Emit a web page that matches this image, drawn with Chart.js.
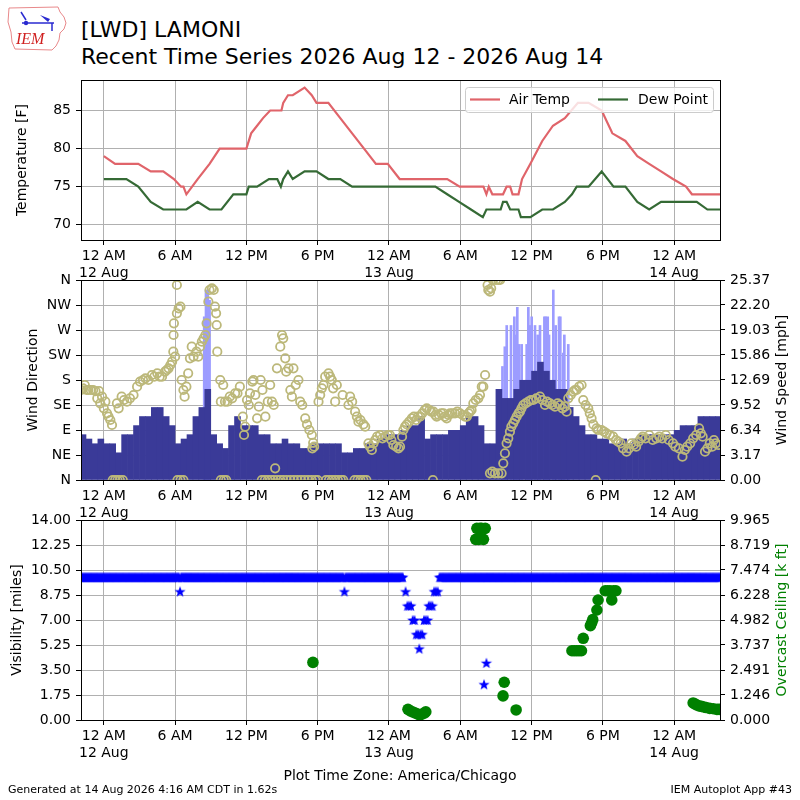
<!DOCTYPE html>
<html>
<head>
<meta charset="utf-8">
<script src="https://cdn.jsdelivr.net/npm/chart.js@4.4.0/dist/chart.umd.min.js"></script>
<style>
  body { margin: 0; background: #fff; }
  #wrap { position: relative; width: 800px; height: 800px; overflow: hidden; font-family: 'DejaVu Sans', sans-serif; color: #000; }
  #wrap canvas.plot { position: absolute; left: 0; top: 0; }
  .txt { position: absolute; white-space: nowrap; }
</style>
</head>
<body>
<div id="wrap">
  <canvas id="logo" width="70" height="56" style="position:absolute;left:2px;top:2px"></canvas>
  <div class="txt" style="left:81px;top:19px;font-size:22px;line-height:22px">[LWD] LAMONI</div>
  <div class="txt" style="left:81px;top:46px;font-size:22px;line-height:22px">Recent Time Series 2026 Aug 12 - 2026 Aug 14</div>
  <canvas class="plot" id="tempChart" width="800" height="800"></canvas>
  <canvas class="plot" id="windChart" width="800" height="800"></canvas>
  <canvas class="plot" id="visChart" width="800" height="800"></canvas>
  <div class="txt" style="left:0;width:800px;text-align:center;top:768px;font-size:14px;line-height:14px">Plot Time Zone: America/Chicago</div>
  <div class="txt" style="left:8px;top:784px;font-size:11px;line-height:11px">Generated at 14 Aug 2026 4:16 AM CDT in 1.62s</div>
  <div class="txt" style="right:8px;top:784px;font-size:11px;line-height:11px">IEM Autoplot App #43</div>
</div>
<script>
// all times are hours after midnight 12 Aug (America/Chicago)
const xMin = -1.92;
const xMax = 51.86;
const xTickHours = [0, 6, 12, 18, 24, 30, 36, 42, 48];
const xTickLabels = [['12 AM', '12 Aug'], '6 AM', '12 PM', '6 PM', ['12 AM', '13 Aug'], '6 AM', '12 PM', '6 PM', ['12 AM', '14 Aug']];

// temperature panel
const tempTicks = [70, 75, 80, 85];
const tempHours = [0, 0.95, 2.9, 3.95, 5.0, 5.9, 6.5, 6.7, 6.95, 7.9,
  8.9, 9.75, 12.0, 12.4, 12.9, 13.4, 14.0, 14.95, 15.1, 15.5,
  15.9, 16.9, 17.5, 17.9, 18.9, 19.9, 20.9, 21.9, 22.9, 23.9,
  24.9, 28.9, 29.95, 31.95, 32.2, 32.4, 32.7, 33.6, 33.9, 34.2,
  34.4, 34.9, 35.2, 35.9, 36.9, 37.8, 38.8, 39.9, 40.8, 41.9,
  42.8, 43.9, 44.9, 45.9, 46.9, 47.9, 49.0, 49.5, 51.86];
const tempF = [79, 78, 78, 77, 77, 76, 75, 75, 74, 76,
  78, 80, 80, 82, 83, 84, 85, 85, 86, 87,
  87, 88, 87, 86, 86, 84, 82, 80, 78, 78,
  76, 76, 75, 75, 74, 75, 74, 74, 75, 75,
  74, 74, 76, 78, 81, 83, 84, 86, 86, 85,
  82, 81, 79, 78, 77, 76, 75, 74, 74];
const dewHours = [0, 1.9, 2.9, 3.95, 5.0, 6.95, 7.9, 8.9, 9.9, 10.9,
  12.0, 12.2, 12.9, 13.9, 14.6, 14.9, 15.1, 15.5, 15.9, 16.9,
  17.9, 18.9, 19.9, 20.9, 27.9, 28.9, 29.9, 30.9, 31.9, 32.2,
  33.4, 33.6, 33.9, 34.2, 34.9, 35.1, 35.9, 36.9, 37.8, 38.8,
  39.4, 39.8, 40.8, 41.9, 42.9, 43.9, 44.9, 45.9, 46.9, 49.9,
  50.8, 51.86];
const dewF = [76, 76, 75, 73, 72, 72, 73, 72, 72, 74,
  74, 75, 75, 76, 76, 75, 76, 77, 76, 77,
  77, 76, 76, 75, 75, 74, 73, 72, 71, 72,
  72, 73, 73, 72, 72, 71, 71, 72, 72, 73,
  74, 75, 75, 77, 75, 75, 73, 72, 73, 73,
  72, 72];

// wind panel
const dirTicks = [0, 45, 90, 135, 180, 225, 270, 315, 360];
const dirLabels = ['N', 'NE', 'E', 'SE', 'S', 'SW', 'W', 'NW', 'N'];
const speedTickLabels = ['0.00', '3.17', '6.34', '9.52', '12.69', '15.86', '19.03', '22.20', '25.37'];
// sustained wind, one bar per half hour starting 22:00 11 Aug
const windStartHour = -1.75;
const windStepHours = 0.5;
const windMph = [5.75, 5.2, 4.6, 5.2, 4.6, 4.6, 3.45, 5.75, 5.75, 6.9,
  8.05, 8.05, 9.2, 9.2, 8.05, 6.9, 4.6, 5.2, 5.75, 8.05,
  9.2, 11.5, 5.75, 4.6, 4.0, 6.9, 8.05, 6.9, 6.9, 6.9,
  5.75, 5.75, 4.6, 4.6, 5.2, 4.6, 4.6, 4.0, 4.0, 4.6,
  4.6, 4.6, 4.6, 4.6, 3.45, 3.45, 4.0, 4.0, 4.6, 4.6,
  5.2, 5.75, 5.75, 5.75, 6.3, 6.9, 6.9, 8.05, 5.2, 5.75,
  5.75, 5.75, 6.3, 6.3, 6.9, 8.05, 8.05, 6.9, 4.6, 4.6,
  11.5, 10.35, 10.35, 11.5, 12.65, 12.65, 13.8, 14.95, 13.8, 12.65,
  11.5, 11.5, 9.2, 8.05, 6.9, 5.75, 5.75, 5.2, 5.2, 4.6,
  4.6, 5.2, 4.6, 5.2, 5.75, 5.75, 5.75, 5.75, 5.75, 5.75,
  6.3, 6.9, 6.9, 6.9, 8.05, 8.05, 8.05, 8.05];
const gustHours = [8.45, 8.6, 8.75, 8.9, 33.55, 33.75, 33.91, 34.27, 34.55, 34.66,
  34.8, 34.95, 35.17, 35.59, 35.73, 35.87, 36.01, 36.29, 36.52, 36.71,
  37.08, 37.19, 37.36, 37.47, 37.83, 38.03, 38.31, 38.42, 38.67, 38.76,
  39.09];
const gustMph = [20.7, 24.1, 24.1, 22.8, 14.4, 16.9, 19.6, 19.6, 20.7, 18.4,
  21.9, 17.2, 17.2, 17.2, 21.9, 19.6, 20.7, 19.6, 18.4, 19.6,
  20.7, 20.7, 20.7, 18.4, 24.1, 19.6, 20.7, 20.7, 16.1, 18.4,
  17.2];
const dirHours = [-1.9, -1.75, -1.6, -1.45, -1.3, -1.1, -0.9, -0.7, -0.55, -0.4,
  -0.3, -0.15, 0.0, 0.13, 0.27, 0.4, 0.55, 0.69, 0.75, 0.95,
  1.1, 1.15, 1.25, 1.35, 1.5, 1.6, 1.7, 1.95, 2.2, 2.5,
  2.8, 3.05, 3.3, 3.5, 3.75, 4.05, 4.25, 4.5, 4.7, 4.9,
  5.15, 5.3, 5.45, 5.6, 5.75, 5.85, 5.87, 5.9, 6.0, 6.15,
  6.15, 6.2, 6.3, 6.45, 6.45, 6.55, 6.7, 6.7, 6.8, 6.95,
  7.1, 7.25, 7.4, 7.55, 7.8, 7.95, 8.1, 8.25, 8.4, 8.55,
  8.65, 8.8, 8.9, 9.1, 9.25, 9.35, 9.45, 9.5, 9.55, 9.8,
  9.85, 9.85, 10.05, 10.1, 10.2, 10.3, 10.4, 10.6, 10.8, 11.05,
  11.25, 11.45, 11.7, 11.8, 11.9, 12.05, 12.2, 12.3, 12.5, 12.6,
  12.75, 12.9, 13.05, 13.2, 13.3, 13.35, 13.55, 13.6, 13.8, 13.8,
  14.0, 14.05, 14.15, 14.3, 14.3, 14.42, 14.57, 14.6, 14.85, 14.85,
  15.0, 15.1, 15.1, 15.27, 15.35, 15.4, 15.55, 15.7, 15.7, 15.83,
  15.96, 16.0, 16.15, 16.3, 16.38, 16.53, 16.6, 16.7, 16.9, 16.95,
  17.1, 17.2, 17.3, 17.5, 17.51, 17.55, 17.62, 17.7, 17.8, 18.0,
  18.07, 18.21, 18.35, 18.49, 18.63, 18.7, 18.91, 18.95, 19.05, 19.19,
  19.2, 19.3, 19.45, 19.47, 19.61, 19.7, 19.95, 20.1, 20.15, 20.59,
  20.73, 20.9, 21.1, 21.15, 21.3, 21.35, 21.43, 21.6, 21.6, 21.85,
  21.85, 22.0, 22.1, 22.27, 22.4, 22.56, 22.7, 22.83, 23.0, 23.25,
  23.45, 23.67, 23.9, 24.08, 24.2, 24.37, 24.6, 24.8, 24.93, 25.1,
  25.21, 25.35, 25.5, 25.7, 25.92, 26.1, 26.28, 26.45, 26.62, 26.8,
  27.0, 27.18, 27.4, 27.55, 27.7, 27.74, 27.9, 28.02, 28.2, 28.4,
  28.58, 28.7, 28.86, 29.0, 29.14, 29.35, 29.56, 29.75, 29.98, 30.2,
  30.4, 30.55, 30.7, 30.82, 30.95, 31.1, 31.3, 31.52, 31.66, 31.81,
  31.94, 32.09, 32.3, 32.36, 32.5, 32.5, 32.6, 32.7, 32.75, 32.92,
  33.0, 33.2, 33.2, 33.35, 33.48, 33.62, 33.76, 33.9, 34.04, 34.18,
  34.3, 34.46, 34.6, 34.74, 34.9, 35.02, 35.15, 35.3, 35.5, 35.73,
  35.95, 36.15, 36.4, 36.71, 36.9, 37.13, 37.3, 37.55, 37.75, 37.97,
  38.2, 38.39, 38.6, 38.8, 38.95, 39.09, 39.3, 39.51, 39.65, 39.79,
  40.0, 40.21, 40.35, 40.55, 40.77, 40.9, 41.05, 41.2, 41.4, 41.47,
  41.6, 41.89, 42.1, 42.31, 42.6, 42.87, 43.1, 43.29, 43.5, 43.7,
  44.0, 44.2, 44.4, 44.6, 44.8, 45.0, 45.2, 45.35, 45.6, 45.9,
  46.2, 46.5, 46.75, 47.0, 47.3, 47.55, 47.9, 48.1, 48.4, 48.7,
  48.9, 49.1, 49.35, 49.6, 49.85, 50.1, 50.25, 50.4, 50.6, 50.8,
  51.0, 51.2, 51.35, 51.5, 51.7];
const dirDeg = [162, 165, 171, 162, 162, 162, 162, 160, 147, 160,
  138, 150, 129, 141, 120, 114, 108, 99, 0, 0,
  138, 0, 129, 0, 150, 0, 144, 141, 147, 153,
  168, 177, 180, 183, 180, 189, 186, 192, 186, 186,
  195, 198, 201, 207, 213, 231, 261, 282, 222, 300,
  351, 0, 309, 312, 0, 180, 162, 0, 150, 168,
  192, 219, 240, 222, 231, 222, 240, 249, 255, 261,
  282, 321, 342, 345, 342, 312, 300, 279, 231, 180,
  0, 141, 171, 0, 141, 0, 141, 150, 147, 156,
  156, 168, 114, 81, 96, 144, 135, 156, 177, 180,
  153, 111, 132, 180, 0, 162, 0, 114, 141, 0,
  171, 0, 141, 135, 0, 21, 201, 0, 240, 0,
  261, 255, 0, 219, 195, 0, 201, 162, 0, 150,
  201, 0, 171, 0, 180, 141, 0, 135, 0, 111,
  100, 0, 90, 0, 81, 57, 67, 60, 0, 0,
  141, 153, 165, 171, 186, 0, 192, 0, 186, 180,
  0, 165, 0, 141, 171, 0, 0, 153, 0, 135,
  150, 141, 0, 123, 114, 0, 105, 108, 0, 100,
  0, 96, 0, 66, 60, 54, 66, 72, 78, 81,
  75, 78, 81, 81, 72, 63, 60, 57, 60, 78,
  90, 96, 100, 105, 111, 114, 108, 114, 114, 120,
  126, 129, 126, 123, 0, 123, 117, 114, 117, 120,
  120, 114, 111, 117, 120, 120, 120, 123, 120, 117,
  114, 114, 120, 123, 126, 138, 144, 147, 153, 168,
  168, 189, 351, 342, 339, 12, 345, 15, 360, 12,
  360, 360, 12, 360, 12, 30, 48, 66, 75, 87,
  96, 102, 108, 114, 120, 123, 129, 135, 138, 141,
  144, 144, 147, 150, 144, 135, 141, 138, 135, 132,
  138, 135, 129, 132, 123, 147, 153, 159, 162, 162,
  168, 171, 144, 135, 129, 120, 111, 100, 0, 93,
  90, 90, 87, 84, 81, 78, 72, 69, 66, 57,
  51, 57, 66, 63, 60, 69, 75, 78, 75, 81,
  72, 75, 78, 75, 81, 72, 66, 60, 57, 42,
  54, 60, 66, 75, 81, 93, 84, 78, 51, 57,
  66, 60, 72, 66, 63];

// visibility / ceiling panel
const visTickLabels = ['0.00', '1.75', '3.50', '5.25', '7.00', '8.75', '10.50', '12.25', '14.00'];
const ceilTickLabels = ['0.000', '1.246', '2.491', '3.737', '4.982', '6.228', '7.474', '8.719', '9.965'];
// routine visibility reports every 5 minutes from 22:00 11 Aug, one row per hour, null = none
const visStartHour = -2.0;
const visStepHours = 1 / 12;
const visMiles = [
  10, 10, 10, 10, 10, 10, 10, 10, 10, 10, 10, 10,
  10, 10, 10, 10, 10, 10, 10, 10, 10, 10, 10, 10,
  10, 10, 10, 10, 10, 10, 10, 10, 10, 10, 10, 10,
  10, 10, 10, 10, 10, 10, 10, 10, 10, 10, 10, 10,
  10, 10, 10, 10, 10, 10, 10, 10, 10, 10, 10, 10,
  10, 10, 10, 10, 10, 10, 10, 10, 10, 10, 10, 10,
  10, 10, 10, 10, 10, 10, 10, 10, 10, 10, 10, 10,
  10, 10, 10, 10, 10, 10, 10, 10, 10, 10, 10, 10,
  10, 10, 10, 10, 10, 9, 10, 10, 10, 10, 10, 10,
  10, 10, 10, 10, 10, 10, 10, 10, 10, 10, 10, 10,
  10, 10, 10, 10, 10, 10, 10, 10, 10, 10, 10, 10,
  10, 10, 10, 10, 10, 10, 10, 10, 10, 10, 10, 10,
  10, 10, 10, 10, 10, 10, 10, 10, 10, 10, 10, 10,
  10, 10, 10, 10, 10, 10, 10, 10, 10, 10, 10, 10,
  10, 10, 10, 10, 10, 10, 10, 10, 10, 10, 10, 10,
  10, 10, 10, 10, 10, 10, 10, 10, 10, 10, 10, 10,
  10, 10, 10, 10, 10, 10, 10, 10, 10, 10, 10, 10,
  10, 10, 10, 10, 10, 10, 10, 10, 10, 10, 10, 10,
  10, 10, 10, 10, 10, 10, 10, 10, 10, 10, 10, 10,
  10, 10, 10, 10, 10, 10, 10, 10, 10, 10, 10, 10,
  10, 10, 10, 10, 10, 10, 10, 10, 10, 10, 10, 10,
  10, 10, 10, 10, 10, 10, 10, 10, 10, 10, 10, 10,
  10, 10, 10, 9, 10, 10, 10, 10, 10, 10, 10, 10,
  10, 10, 10, 10, 10, 10, 10, 10, 10, 10, 10, 10,
  10, 10, 10, 10, 10, 10, 10, 10, 10, 10, 10, 10,
  10, 10, 10, 10, 10, 10, 10, 10, 10, 10, 10, 10,
  10, 10, 10, 10, 10, 10, 10, 10, 10, 10, 10, 10,
  10, 10, 10, null, null, null, null, null, null, null, null, null,
  null, null, null, null, null, null, null, null, null, null, null, null,
  null, null, null, null, null, null, null, null, null, null, null, null,
  null, null, null, 10, 10, 10, 10, 10, 10, 10, 10, 10,
  10, 10, 10, 10, 10, 10, 10, 10, 10, 10, 10, 10,
  10, 10, 10, 10, 10, 10, 10, 10, 10, 10, 10, 10,
  10, 10, 10, 10, 10, 10, 10, 10, 10, 10, 10, 10,
  10, 10, 10, 10, 10, 10, 10, 10, 10, 10, 10, 10,
  10, 10, 10, 10, 10, 10, 10, 10, 10, 10, 10, 10,
  10, 10, 10, 10, 10, 10, 10, 10, 10, 10, 10, 10,
  10, 10, 10, 10, 10, 10, 10, 10, 10, 10, 10, 10,
  10, 10, 10, 10, 10, 10, 10, 10, 10, 10, 10, 10,
  10, 10, 10, 10, 10, 10, 10, 10, 10, 10, 10, 10,
  10, 10, 10, 10, 10, 10, 10, 10, 10, 10, 10, 10,
  10, 10, 10, 10, 10, 10, 10, 10, 10, 10, 10, 10,
  10, 10, 10, 10, 10, 10, 10, 10, 10, 10, 10, 10,
  10, 10, 10, 10, 10, 10, 10, 10, 10, 10, 10, 10,
  10, 10, 10, 10, 10, 10, 10, 10, 10, 10, 10, 10,
  10, 10, 10, 10, 10, 10, 10, 10, 10, 10, 10, 10,
  10, 10, 10, 10, 10, 10, 10, 10, 10, 10, 10, 10,
  10, 10, 10, 10, 10, 10, 10, 10, 10, 10, 10, 10,
  10, 10, 10, 10, 10, 10, 10, 10, 10, 10, 10, 10,
  10, 10, 10, 10, 10, 10, 10, 10, 10, 10, 10, 10,
  10, 10, 10, 10, 10, 10, 10, 10, 10, 10, 10, 10,
  10, 10, 10, 10, 10, 10, 10, 10, 10, 10, 10, 10,
  10, 10, 10, 10, 10, 10, 10, 10, 10, 10, 10, 10,
  10, 10, 10, 10, 10, 10, 10, 10, 10, 10, 10, 10];
// special observations during the fog event and the morning storm
const visSpecialHours = [25.4, 25.55, 25.7, 25.85, 26.0, 26.15, 26.3, 26.45, 26.55, 26.65,
  26.8, 26.95, 27.1, 27.25, 27.35, 27.5, 27.65, 27.8, 27.95, 28.1,
  32.0, 32.2];
const visSpecialMiles = [9, 8, 8, 8, 7, 7, 6, 6, 5, 6,
  6, 7, 7, 7, 8, 8, 8, 9, 9, 9,
  2.5, 4];
const ceilHours = [17.6, 25.6, 25.8, 26.0, 26.2, 26.4, 26.6, 26.8, 27.0, 27.1,
  31.3, 31.4, 31.55, 31.65, 31.8, 31.95, 32.1, 33.6, 33.7, 34.7,
  39.4, 39.6, 39.8, 40.0, 40.2, 40.35, 40.95, 41.05, 41.15, 41.5,
  41.6, 42.2, 42.4, 42.6, 42.75, 42.9, 43.1, 49.6, 49.75, 49.9,
  50.1, 50.3, 50.5, 50.7, 51.0, 51.3, 51.6, 51.8];
const ceilKft = [2.87, 0.53, 0.45, 0.4, 0.35, 0.3, 0.25, 0.3, 0.35, 0.41,
  9.0, 9.55, 9.0, 9.55, 9.55, 9.0, 9.55, 1.2, 1.88, 0.5,
  3.45, 3.45, 3.45, 3.45, 3.45, 4.07, 4.7, 4.82, 5.0, 5.48,
  5.98, 6.44, 6.44, 6.44, 5.98, 6.44, 6.44, 0.85, 0.8, 0.75,
  0.7, 0.68, 0.65, 0.62, 0.58, 0.56, 0.53, 0.53];

const gridColor = '#b0b0b0';
const FONT = "'DejaVu Sans', sans-serif";

Chart.defaults.font.family = FONT;
Chart.defaults.font.size = 14;
Chart.defaults.color = '#000';
Chart.defaults.animation = false;

// black box around each plot area
const frame = {
  id: 'frame',
  afterDraw(chart) {
    const { ctx, chartArea: a } = chart;
    ctx.save();
    ctx.strokeStyle = '#000';
    ctx.lineWidth = 1;
    ctx.strokeRect(Math.round(a.left) + 0.5, Math.round(a.top) + 0.5,
      Math.round(a.right - a.left), Math.round(a.bottom - a.top));
    ctx.restore();
  }
};

// right hand axis title, reading bottom to top like the left one
const rightTitle = {
  id: 'rightTitle',
  afterDraw(chart, args, opts) {
    if (!opts || !opts.text) return;
    const { ctx, chartArea: a } = chart;
    ctx.save();
    ctx.translate(opts.x, (a.top + a.bottom) / 2);
    ctx.rotate(-Math.PI / 2);
    ctx.font = '14px ' + FONT;
    ctx.fillStyle = opts.color || '#000';
    ctx.textAlign = 'center';
    ctx.textBaseline = 'middle';
    ctx.fillText(opts.text, 0, 0);
    ctx.restore();
  }
};

// legend box drawn inside the temperature plot
const boxLegend = {
  id: 'boxLegend',
  afterDatasetsDraw(chart) {
    const { ctx, chartArea: a } = chart;
    const x0 = a.right - 255;
    const y0 = a.top + 7;
    ctx.save();
    ctx.fillStyle = 'rgba(255,255,255,0.8)';
    ctx.strokeStyle = '#cccccc';
    ctx.lineWidth = 1;
    ctx.beginPath();
    if (ctx.roundRect) ctx.roundRect(x0 + 0.5, y0 + 0.5, 248, 25, 3);
    else ctx.rect(x0 + 0.5, y0 + 0.5, 248, 25);
    ctx.fill();
    ctx.stroke();
    const slots = [[x0 + 5, x0 + 44], [x0 + 133, x0 + 173]];
    ctx.font = '14px ' + FONT;
    ctx.textBaseline = 'middle';
    chart.data.datasets.forEach((ds, i) => {
      const [sx, tx] = slots[i];
      ctx.strokeStyle = ds.borderColor;
      ctx.lineWidth = 2.2;
      ctx.beginPath();
      ctx.moveTo(sx, y0 + 12.5);
      ctx.lineTo(sx + 30, y0 + 12.5);
      ctx.stroke();
      ctx.fillStyle = '#000';
      ctx.fillText(ds.label, tx, y0 + 13);
    });
    ctx.restore();
  }
};

function timeAxis() {
  return {
    type: 'linear',
    position: 'bottom',
    min: xMin,
    max: xMax,
    offset: false,
    grid: { color: gridColor, lineWidth: 1, offset: false, tickColor: '#000', tickLength: 5 },
    border: { display: true, color: '#000', width: 1 },
    ticks: {
      autoSkip: false, maxRotation: 0, padding: 3,
      font: { size: 14, lineHeight: 1.2 },
      callback: (v, i) => xTickLabels[i]
    },
    afterBuildTicks: (scale) => { scale.ticks = xTickHours.map(v => ({ value: v })); },
    afterFit: (scale) => { scale.height = 40; }
  };
}

function leftAxis(min, max, tickValues, tickText, title, width) {
  return {
    type: 'linear',
    position: 'left',
    min: min,
    max: max,
    grid: { color: gridColor, lineWidth: 1, tickColor: '#000', tickLength: 5 },
    border: { display: true, color: '#000', width: 1 },
    ticks: { padding: 5, font: { size: 14 }, callback: (v, i) => tickText[i] },
    afterBuildTicks: (scale) => { scale.ticks = tickValues.map(v => ({ value: v })); },
    title: { display: true, text: title, font: { size: 14 }, padding: { top: 0, bottom: 0 }, color: '#000' },
    afterFit: (scale) => { scale.width = width; }
  };
}

function rightAxis(labels) {
  const values = labels.map(Number);
  return {
    type: 'linear',
    position: 'right',
    min: 0,
    max: values[values.length - 1],
    grid: { drawOnChartArea: false, tickColor: '#000', tickLength: 5 },
    border: { display: true, color: '#000', width: 1 },
    ticks: { padding: 5, font: { size: 14 }, callback: (v, i) => labels[i] },
    afterBuildTicks: (scale) => { scale.ticks = values.map(v => ({ value: v })); },
    afterFit: (scale) => { scale.width = 80; }
  };
}

function makeStar(color, outer, inner) {
  const c = document.createElement('canvas');
  const s = Math.ceil(outer * 2) + 2;
  c.width = s;
  c.height = s;
  const g = c.getContext('2d');
  g.fillStyle = color;
  g.beginPath();
  for (let k = 0; k < 10; k++) {
    const r = k % 2 ? inner : outer;
    const ang = -Math.PI / 2 + k * Math.PI / 5;
    g.lineTo(s / 2 + r * Math.cos(ang), s / 2 + r * Math.sin(ang) + 0.6);
  }
  g.closePath();
  g.fill();
  return c;
}

function drawLogo() {
  const g = document.getElementById('logo').getContext('2d');
  g.strokeStyle = '#e8888a';
  g.lineWidth = 1;
  g.beginPath();
  g.moveTo(7, 6); g.lineTo(56, 5); g.lineTo(58, 10); g.lineTo(62, 15); g.lineTo(64, 21);
  g.lineTo(62, 27); g.lineTo(58, 31); g.lineTo(57, 38); g.lineTo(54, 44); g.lineTo(50, 48);
  g.lineTo(13, 47); g.lineTo(10, 40); g.lineTo(9, 30); g.lineTo(6, 20); g.closePath();
  g.stroke();
  g.strokeStyle = '#2a2ad0';
  g.fillStyle = '#2a2ad0';
  g.lineWidth = 1.5;
  g.beginPath(); g.moveTo(20, 21); g.lineTo(52, 21); g.stroke();
  g.beginPath(); g.moveTo(19, 10); g.lineTo(24, 18); g.stroke();
  g.beginPath(); g.arc(24, 21, 2.2, 0, Math.PI * 2); g.fill();
  g.beginPath(); g.moveTo(38, 13); g.lineTo(48, 17); g.lineTo(46, 20); g.closePath(); g.fill();
  g.beginPath(); g.moveTo(50, 21); g.lineTo(50, 29); g.stroke();
  g.fillStyle = '#d02020';
  g.font = "italic 16px 'Liberation Serif', serif";
  g.fillText('IEM', 14, 42);
}

const xy = (xs, ys) => xs.map((x, i) => ({ x: x, y: ys[i] }));

drawLogo();

new Chart(document.getElementById('tempChart'), {
  type: 'scatter',
  data: {
    datasets: [
      { label: 'Air Temp', data: xy(tempHours, tempF), showLine: true, borderColor: '#e0646a',
        backgroundColor: '#e0646a', borderWidth: 2.2, pointRadius: 0, tension: 0 },
      { label: 'Dew Point', data: xy(dewHours, dewF), showLine: true, borderColor: '#356a35',
        backgroundColor: '#356a35', borderWidth: 2.2, pointRadius: 0, tension: 0 }
    ]
  },
  options: {
    responsive: false,
    layout: { padding: { left: 14, right: 80, top: 80, bottom: 520 } },
    scales: {
      x: timeAxis(),
      y: leftAxis(68, 89, tempTicks, tempTicks.map(String), 'Temperature [F]', 67)
    },
    plugins: { legend: { display: false }, tooltip: { enabled: false } }
  },
  plugins: [boxLegend, frame]
});

const gustAxis = { type: 'linear', display: false, min: xMin, max: xMax, offset: false, grid: { offset: false } };

new Chart(document.getElementById('windChart'), {
  type: 'bar',
  data: {
    datasets: [
      { type: 'scatter', label: 'Wind Direction', data: xy(dirHours, dirDeg), xAxisID: 'x', yAxisID: 'y',
        pointRadius: 4.2, borderWidth: 1.8, borderColor: '#bcb87a', backgroundColor: 'rgba(0,0,0,0)',
        clip: 0, order: 0 },
      { type: 'bar', label: 'Wind Speed', xAxisID: 'x', yAxisID: 'y2',
        data: windMph.map((v, i) => ({ x: windStartHour + i * windStepHours, y: v })),
        backgroundColor: '#3a3a98', borderWidth: 0, barPercentage: 1, categoryPercentage: 1,
        grouped: false, order: 1 },
      { type: 'bar', label: 'Gust', xAxisID: 'xg', yAxisID: 'y2', data: xy(gustHours, gustMph),
        backgroundColor: '#9c9cff', borderWidth: 0, barThickness: 2, grouped: false, order: 2 }
    ]
  },
  options: {
    responsive: false,
    layout: { padding: { left: 25, right: 0, top: 280, bottom: 280 } },
    scales: {
      x: timeAxis(),
      xg: gustAxis,
      y: leftAxis(0, 360, dirTicks, dirLabels, 'Wind Direction', 56),
      y2: rightAxis(speedTickLabels)
    },
    plugins: {
      legend: { display: false }, tooltip: { enabled: false },
      rightTitle: { text: 'Wind Speed [mph]', color: '#000', x: 782 }
    }
  },
  plugins: [frame, rightTitle]
});

const visPoints = visMiles
  .map((v, i) => ({ x: visStartHour + i * visStepHours, y: v }))
  .filter(p => p.y !== null)
  .concat(xy(visSpecialHours, visSpecialMiles));

new Chart(document.getElementById('visChart'), {
  type: 'scatter',
  data: {
    datasets: [
      { label: 'Visibility', data: visPoints, yAxisID: 'y', pointStyle: makeStar('#0000ff', 5.9, 2.4),
        pointRadius: 5, clip: 0, order: 1 },
      { label: 'Overcast Ceiling', data: xy(ceilHours, ceilKft), yAxisID: 'y2', pointRadius: 5.8,
        backgroundColor: '#008000', borderColor: '#008000', borderWidth: 0, order: 0 }
    ]
  },
  options: {
    responsive: false,
    layout: { padding: { left: 9, right: 0, top: 520, bottom: 40 } },
    scales: {
      x: timeAxis(),
      y: leftAxis(0, 14, visTickLabels.map(Number), visTickLabels, 'Visibility [miles]', 72),
      y2: rightAxis(ceilTickLabels)
    },
    plugins: {
      legend: { display: false }, tooltip: { enabled: false },
      rightTitle: { text: 'Overcast Ceiling [k ft]', color: '#008000', x: 782 }
    }
  },
  plugins: [frame, rightTitle]
});
</script>
</body>
</html>
